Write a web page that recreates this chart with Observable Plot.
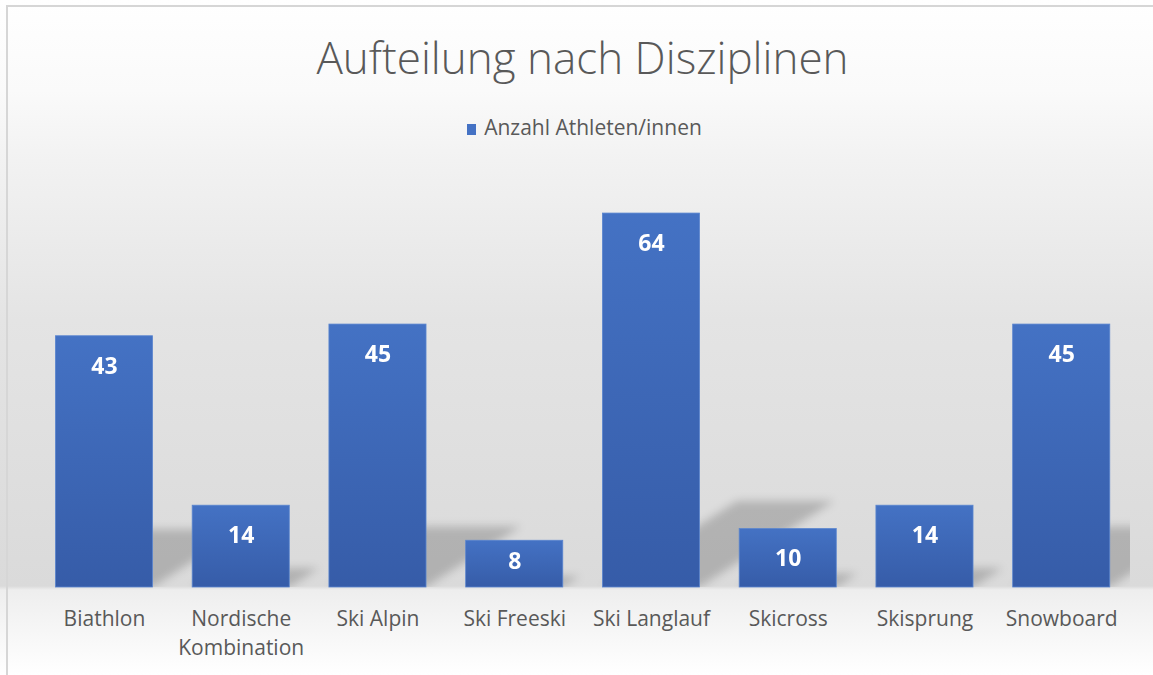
<!DOCTYPE html>
<html>
<head>
<meta charset="utf-8">
<script src="https://cdn.jsdelivr.net/npm/d3@7"></script>
<script src="https://cdn.jsdelivr.net/npm/@observablehq/plot@0.6"></script>
<style>
  body { margin: 0; background: #fff; }
  #chart {
    position: relative; width: 1153px; height: 675px; overflow: hidden;
    font-family: "Open Sans", sans-serif;
    background: linear-gradient(to bottom, #ffffff 0px, #fafafa 90px, #f2f2f2 160px, #e4e4e4 320px, #dadada 586px, #eeeeee 590px, #ffffff 675px);
  }
  #frame { position: absolute; left: 6px; top: 5px; right: -10px; bottom: -10px; border-top: 2px solid #d6d6d6; border-left: 2px solid #d6d6d6; pointer-events: none; }
  #header { position: relative; height: 160px; }
  #title { position: absolute; left: 12px; right: 0; top: 35px; text-align: center; font-size: 44px; line-height: 44px; font-weight: 300; color: #595959; white-space: nowrap; }
  #legend { position: absolute; left: 16px; right: 0; top: 114px; text-align: center; font-size: 21px; line-height: 26px; color: #595959; }
  #legend .sw { display: inline-block; width: 9px; height: 11px; background: #4472c4; margin-right: 8px; vertical-align: 0px; }
  #plot { position: absolute; left: 0; top: 160px; }
</style>
</head>
<body>
<div id="chart">
  <div id="header">
    <div id="title">Aufteilung nach Disziplinen</div>
    <div id="legend"><span class="sw"></span><span id="legendText"></span></div>
  </div>
  <div id="plot"></div>
  <div id="frame"></div>
</div>
<script>
const categories = ["Biathlon", "Nordische Kombination", "Ski Alpin", "Ski Freeski", "Ski Langlauf", "Skicross", "Skisprung", "Snowboard"];
const values = [43, 14, 45, 8, 64, 10, 14, 45];
const seriesName = "Anzahl Athleten/innen";
const tickLabels = ["Biathlon", "Nordische\nKombination", "Ski Alpin", "Ski Freeski", "Ski Langlauf", "Skicross", "Skisprung", "Snowboard"];

document.getElementById("legendText").textContent = seriesName;

const data = categories.map((c, i) => ({category: c, value: values[i]}));
const labelOf = new Map(categories.map((c, i) => [c, tickLabels[i]]));

const defs = () => {
  const d = d3.create("svg:defs");
  const g = d.append("linearGradient").attr("id", "barGrad").attr("x1", 0).attr("y1", 0).attr("x2", 0).attr("y2", 1);
  g.append("stop").attr("offset", "0%").attr("stop-color", "#4472c4");
  g.append("stop").attr("offset", "100%").attr("stop-color", "#365ca8");
  d.append("filter").attr("id", "shadowBlur").attr("x", "-30%").attr("y", "-30%").attr("width", "160%").attr("height", "160%")
    .append("feGaussianBlur").attr("stdDeviation", 4.5);
  return d.node();
};

const labelStyle = {fill: "white", fontSize: 23, fontWeight: "bold"};

const chart = Plot.plot({
  width: 1153,
  height: 515,
  marginTop: 18,
  marginBottom: 88,
  marginLeft: 35.6,
  marginRight: 23.4,
  style: {background: "transparent", color: "#595959", overflow: "visible", fontFamily: "'Open Sans', sans-serif"},
  x: {domain: categories, paddingInner: 0.29, paddingOuter: 0.145, round: false, label: null},
  y: {domain: [0, 70], axis: null},
  marks: [
    defs,
    Plot.barY(data, {x: "category", y: "value", fill: "#000", fillOpacity: 0.19, clip: true}),
    Plot.barY(data, {x: "category", y: "value", fill: "url(#barGrad)", stroke: "#5a85cf", strokeWidth: 0.8}),
    Plot.text(data.filter(d => d.value >= 10), {x: "category", y: "value", text: d => String(d.value), dy: 30, ...labelStyle}),
    Plot.text(data.filter(d => d.value < 10), {x: "category", y: d => d.value / 2, text: d => String(d.value), dy: -3, ...labelStyle}),
    Plot.axisX({tickSize: 0, tickPadding: 18, fontSize: 21, lineHeight: 1.38, tickFormat: d => labelOf.get(d), label: null})
  ]
});

// Perspective shadows: skew the first bar layer up and to the right, flatten and blur it
const barGroups = d3.select(chart).selectAll("g[aria-label='bar']").nodes();
const shadowG = d3.select(barGroups[0]);
shadowG.attr("filter", "url(#shadowBlur)");
shadowG.selectAll("rect").each(function() {
  const r = d3.select(this);
  const yb = +r.attr("y") + +r.attr("height");
  r.attr("transform", `translate(0,${yb}) matrix(1,0,-0.36,0.23,0,0) translate(0,${-yb})`);
});

document.getElementById("plot").appendChild(chart);
</script>
</body>
</html>
